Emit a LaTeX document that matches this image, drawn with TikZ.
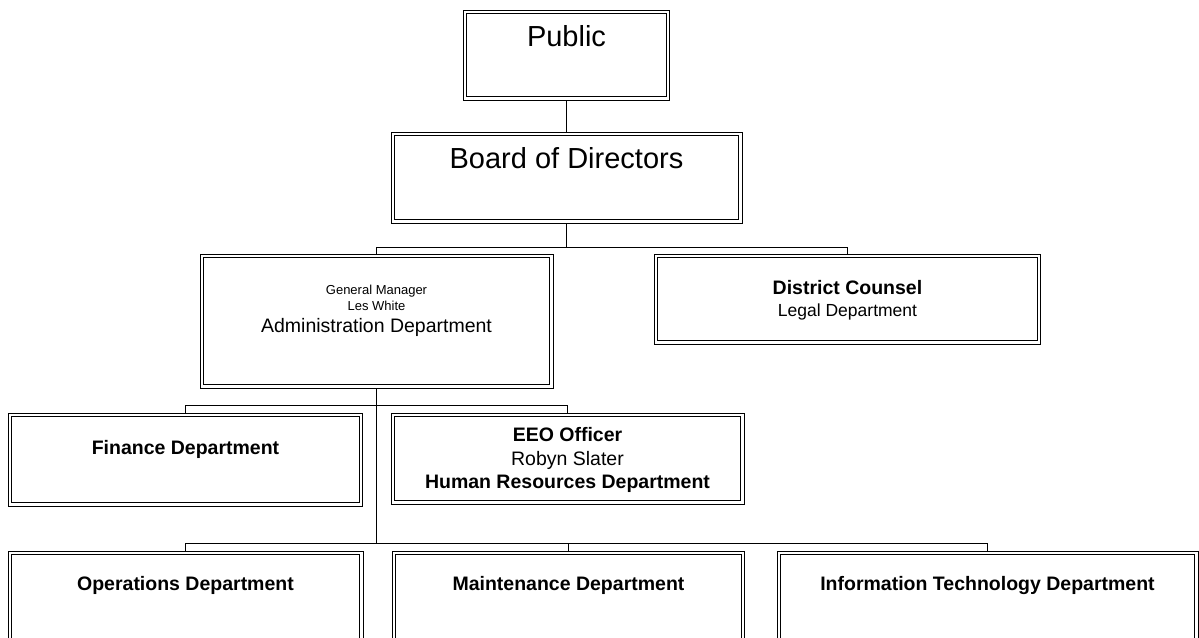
\documentclass[tikz,border=0pt]{standalone}
\usepackage{fontspec}
\setmainfont{Liberation Sans}
\usetikzlibrary{backgrounds}
\begin{document}
\begin{tikzpicture}[x=1pt,y=-1pt,
  % box with a thin outer rule and a heavier inner rule
  orgbox/.style={draw=black, line width=0.9pt, inner sep=0pt,
    append after command={\pgfextra{
      \draw[black, line width=1.4pt]
      ([shift={(3.7pt,-3.7pt)}]\tikzlastnode.north west) rectangle
      ([shift={(-3.7pt,3.7pt)}]\tikzlastnode.south east);}}},
  link/.style={draw=black, line width=1pt},
  txt/.style={anchor=base, inner sep=0pt, align=center},
  huge/.style={txt, font=\fontsize{29}{34}\selectfont},
  big/.style={txt, font=\fontsize{19.5}{23}\selectfont},
  bigb/.style={txt, font=\fontsize{19.5}{23}\selectfont\bfseries},
  mid/.style={txt, font=\fontsize{17.5}{21}\selectfont},
  small/.style={txt, font=\fontsize{13}{15}\selectfont},
]
\useasboundingbox (0,0) rectangle (1199,637);
\clip (0,0) rectangle (1199,637);

% boxes
\node[orgbox, minimum width=206pt, minimum height=90pt]  (public)   at (566.5,55)   {};
\node[orgbox, minimum width=351pt, minimum height=91pt]  (board)    at (566.5,177.5){};
\node[orgbox, minimum width=353pt, minimum height=134pt] (admin)    at (376.5,321)  {};
\node[orgbox, minimum width=386pt, minimum height=90pt]  (counsel)  at (847.5,299)  {};
\node[orgbox, minimum width=354pt, minimum height=93pt]  (finance)  at (185.5,459.5){};
\node[orgbox, minimum width=353pt, minimum height=91pt]  (eeo)      at (567.5,458.5){};
\node[orgbox, minimum width=355pt, minimum height=134pt] (ops)      at (185.5,618)  {};
\node[orgbox, minimum width=352pt, minimum height=134pt] (maint)    at (568.5,618)  {};
\node[orgbox, minimum width=421pt, minimum height=134pt] (it)       at (987.5,618)  {};

% texts
\node[huge]  (tpublic) at (566.5,46)  {Public};
\node[huge]  (tboard)  at (566.5,168) {Board of Directors};
\node[small] (tgm)     at (376.5,294) {General Manager};
\node[small] (tles)    at (376.5,310) {Les White};
\node[big]   (tadmin)  at (376.5,332) {Administration Department};
\node[bigb]  (tdc)     at (847.5,294) {District Counsel};
\node[mid]   (tlegal)  at (847.5,316) {Legal Department};
\node[bigb]  (tfin)    at (185.5,454) {Finance Department};
\node[bigb]  (teeo)    at (567.5,441.5) {EEO Officer};
\node[big]   (trobyn)  at (567.5,465) {Robyn Slater};
\node[bigb]  (thr)     at (567.5,488) {Human Resources Department};
\node[bigb]  (tops)    at (185.5,590) {Operations Department};
\node[bigb]  (tmaint)  at (568.5,590) {Maintenance Department};
\node[bigb]  (tit)     at (987.5,590) {Information Technology Department};

% connectors
\coordinate (j1) at (566.5,247.5);
\coordinate (j2) at (376.5,405.5);
\coordinate (j3) at (376.5,543.5);
\begin{pgfonlayer}{background}
  \draw[link] (public.south) -- (board.north);
  \draw[link] (board.south) -- (j1);
  \draw[link] (admin.north) |- (j1) -| (counsel.north);
  \draw[link] (admin.south) -- (j3);
  \draw[link] (finance.north) |- (j2) -| (eeo.north);
  \draw[link] (ops.north) |- (j3) -| (it.north);
  \draw[link] (j3) -| (maint.north);
\end{pgfonlayer}
\end{tikzpicture}
\end{document}
